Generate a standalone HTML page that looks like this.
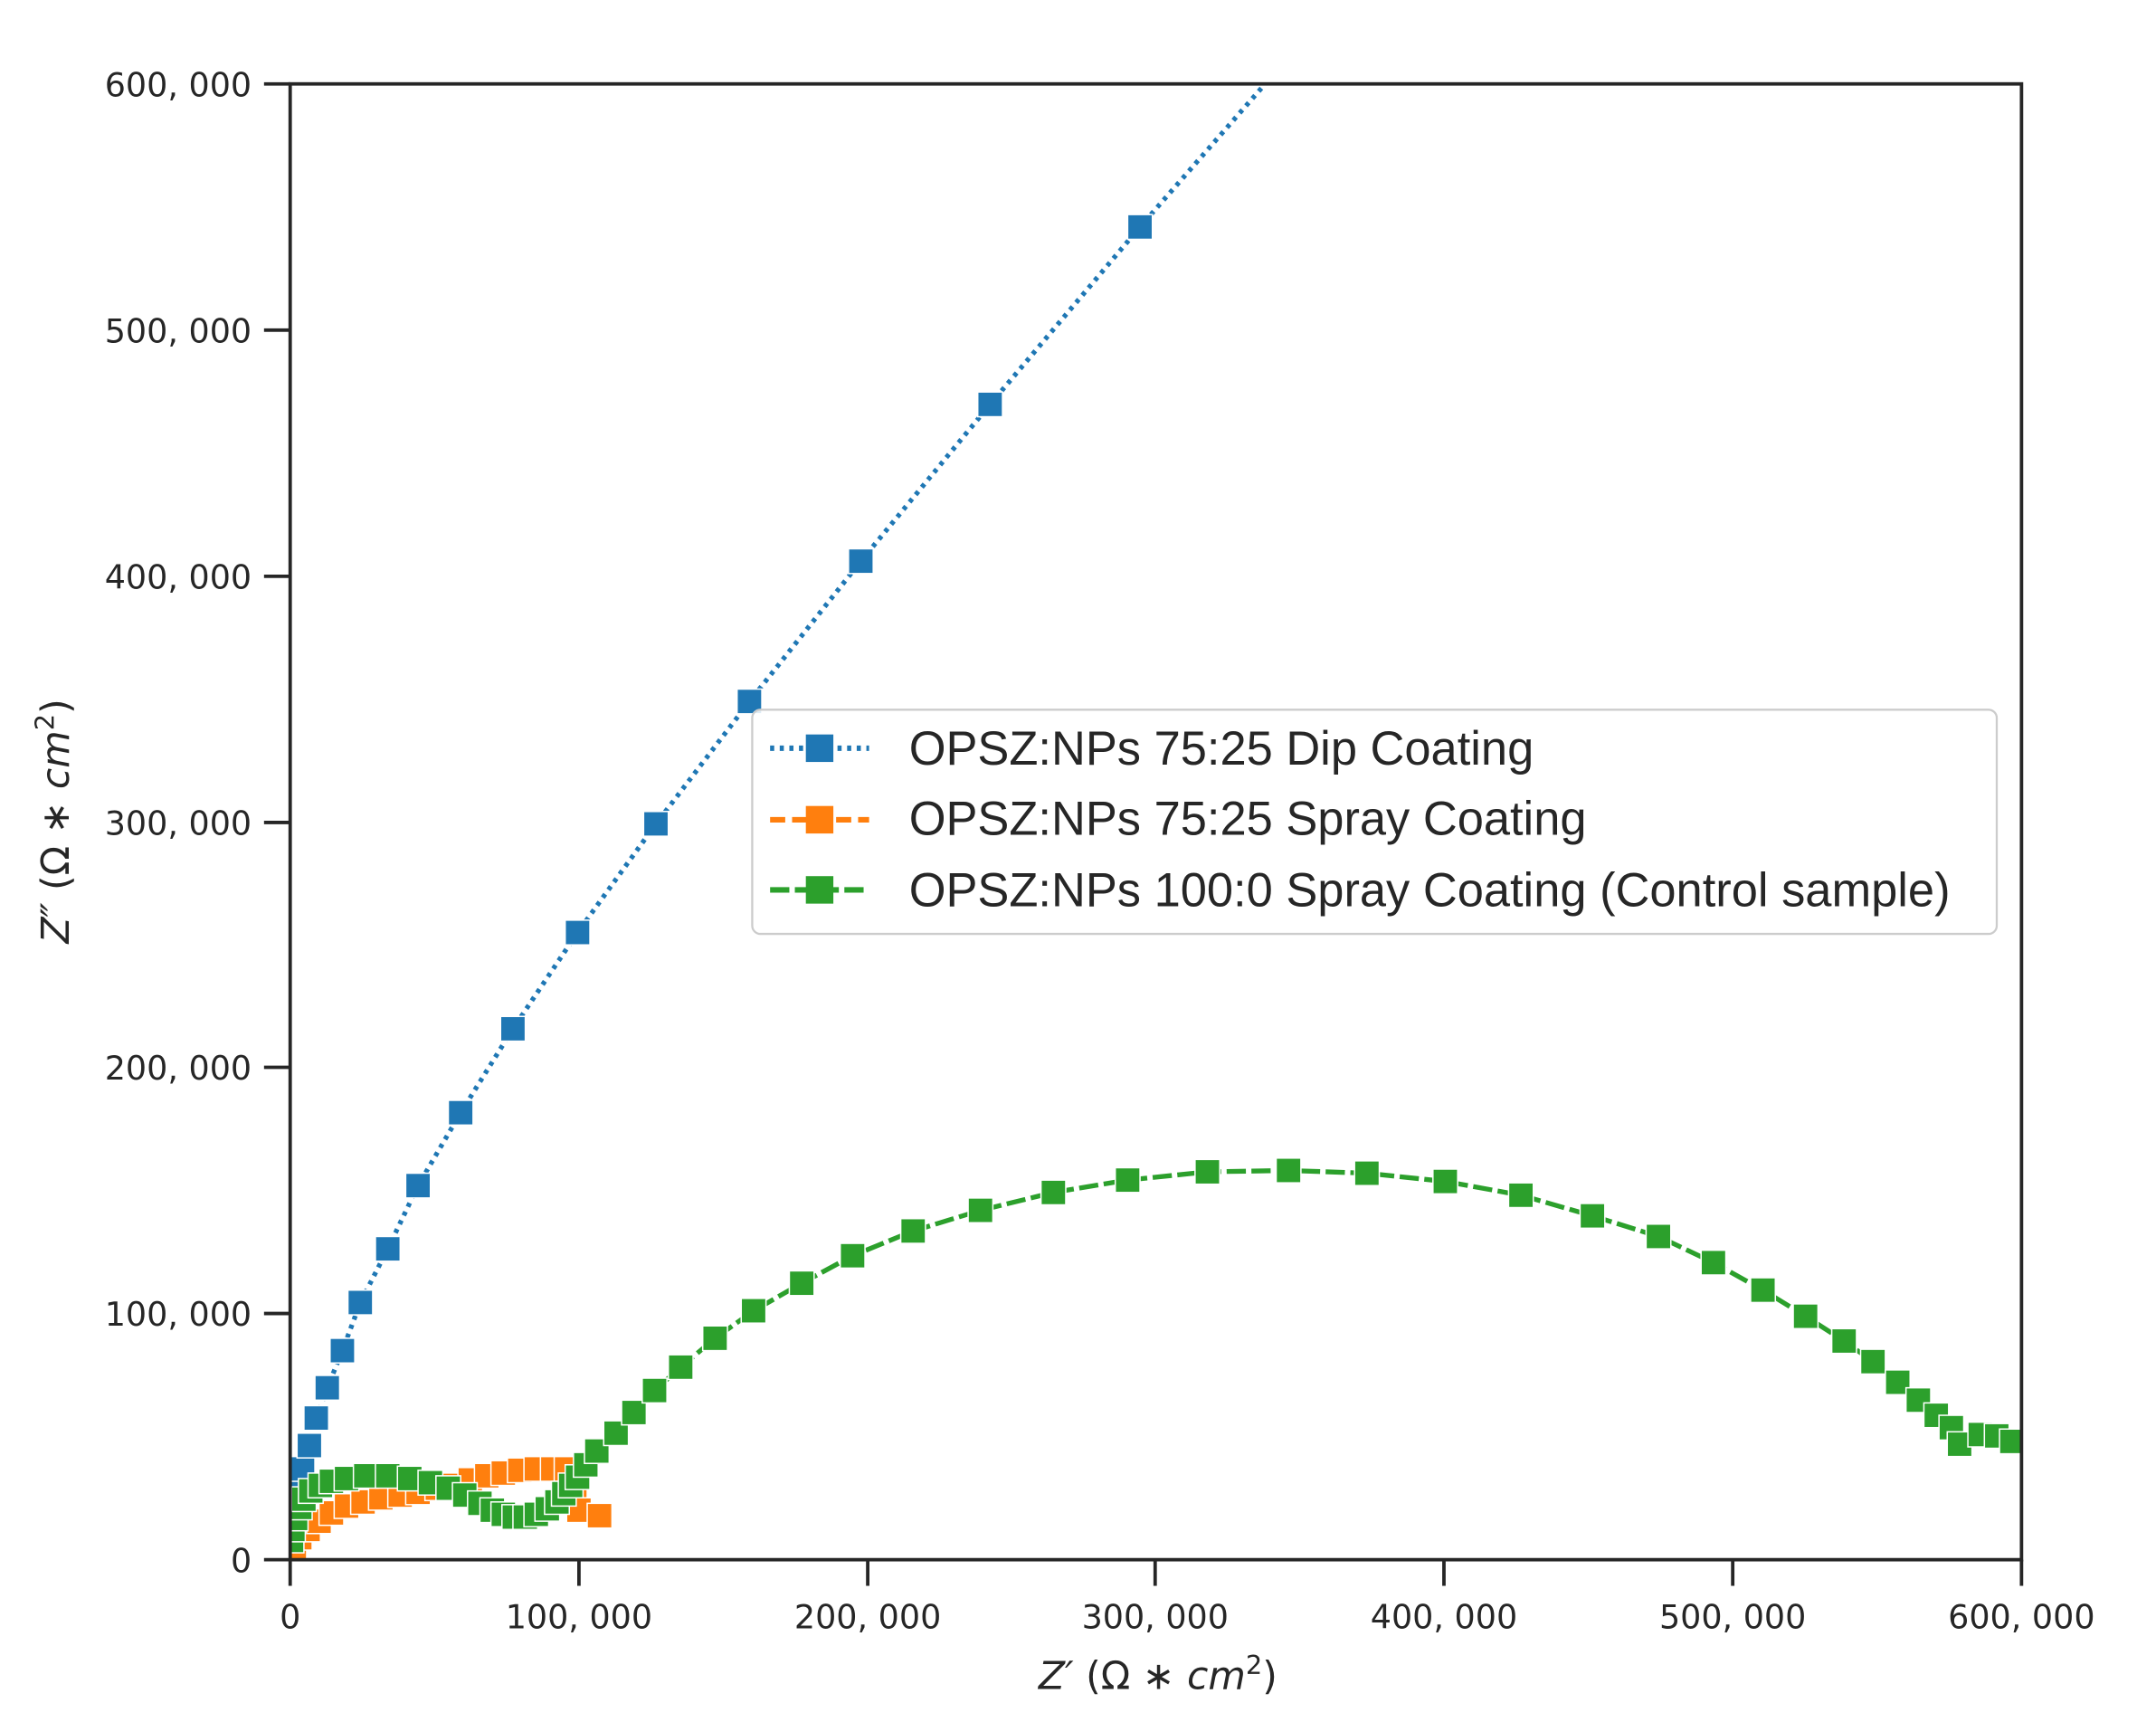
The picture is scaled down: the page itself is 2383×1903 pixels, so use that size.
<!DOCTYPE html>
<html><head><meta charset="utf-8"><style>html,body{margin:0;padding:0;background:#fff}svg{display:block}</style></head>
<body>
<svg xmlns="http://www.w3.org/2000/svg" width="2383" height="1903" viewBox="0 0 1567.8 1252">
<rect width="1567.8" height="1252" fill="#fff"/>
<defs>
<g id="mb"><rect x="-9" y="-9" width="18" height="18" fill="#1f77b4" stroke="#fff" stroke-width="1"/></g>
<g id="mo"><rect x="-9" y="-9" width="18" height="18" fill="#ff7f0e" stroke="#fff" stroke-width="1"/></g>
<g id="mg"><rect x="-9" y="-9" width="18" height="18" fill="#2ca02c" stroke="#fff" stroke-width="1"/></g>
<clipPath id="c"><rect x="211" y="61" width="1259" height="1073"/></clipPath>
</defs>
<g clip-path="url(#c)">
<polyline fill="none" stroke="#1f77b4" stroke-width="3.5" stroke-dasharray="3,4" points="213,1092 216,1080 220,1068 225,1051 230,1031 238,1009 249,982 262,947 282,908 304,862 335,809 373,748 420,678 477,599 545,510 626,408 720,294 829,165 920,61"/>
<g>
<use href="#mb" x="213" y="1092"/><use href="#mb" x="216" y="1080"/><use href="#mb" x="220" y="1068"/><use href="#mb" x="225" y="1051"/><use href="#mb" x="230" y="1031"/><use href="#mb" x="238" y="1009"/><use href="#mb" x="249" y="982"/><use href="#mb" x="262" y="947"/><use href="#mb" x="282" y="908"/><use href="#mb" x="304" y="862"/><use href="#mb" x="335" y="809"/><use href="#mb" x="373" y="748"/><use href="#mb" x="420" y="678"/><use href="#mb" x="477" y="599"/><use href="#mb" x="545" y="510"/><use href="#mb" x="626" y="408"/><use href="#mb" x="720" y="294"/><use href="#mb" x="829" y="165"/>
</g>
<polyline fill="none" stroke="#ff7f0e" stroke-width="3.5" stroke-dasharray="11,5" points="214,1125 218,1118 224,1112 232,1106 241,1100 252,1095 264,1092 277,1089 291,1087 304,1085 318,1082 330,1080 342,1076 354,1073 366,1071 378,1069 390,1068 402,1068 412,1068 418,1082 421,1098 436,1102"/>
<g>
<use href="#mo" x="214" y="1125"/><use href="#mo" x="218" y="1118"/><use href="#mo" x="224" y="1112"/><use href="#mo" x="232" y="1106"/><use href="#mo" x="241" y="1100"/><use href="#mo" x="252" y="1095"/><use href="#mo" x="264" y="1092"/><use href="#mo" x="277" y="1089"/><use href="#mo" x="291" y="1087"/><use href="#mo" x="304" y="1085"/><use href="#mo" x="318" y="1082"/><use href="#mo" x="330" y="1080"/><use href="#mo" x="342" y="1076"/><use href="#mo" x="354" y="1073"/><use href="#mo" x="366" y="1071"/><use href="#mo" x="378" y="1069"/><use href="#mo" x="390" y="1068"/><use href="#mo" x="402" y="1068"/><use href="#mo" x="412" y="1068"/><use href="#mo" x="418" y="1082"/><use href="#mo" x="421" y="1098"/><use href="#mo" x="436" y="1102"/>
</g>
<polyline fill="none" stroke="#2ca02c" stroke-width="3.5" stroke-dasharray="14,4" points="212,1120 213,1112 215,1104 218,1096 221,1090 226,1084 233,1080 241,1077 252,1075 266,1073 282,1073 298,1075 313,1078 326,1082 338,1087 349,1093 358,1098 366,1101 374,1103 382,1103 390,1101 398,1097 405,1092 410,1086 415,1080 420,1074 426,1065 434,1055 448,1042 461,1027 476,1011 495,994 520,973 548,953 583,933 620,913 664,895 713,880 766,867 820,858 878,852 937,851 994,853 1051,859 1106,869 1158,884 1206,899 1246,918 1282,938 1313,957 1341,975 1362,990 1380,1005 1395,1018 1408,1029 1419,1038 1425,1050 1440,1043 1452,1044 1463,1048"/>
<g>
<use href="#mg" x="212" y="1120"/><use href="#mg" x="213" y="1112"/><use href="#mg" x="215" y="1104"/><use href="#mg" x="218" y="1096"/><use href="#mg" x="221" y="1090"/><use href="#mg" x="226" y="1084"/><use href="#mg" x="233" y="1080"/><use href="#mg" x="241" y="1077"/><use href="#mg" x="252" y="1075"/><use href="#mg" x="266" y="1073"/><use href="#mg" x="282" y="1073"/><use href="#mg" x="298" y="1075"/><use href="#mg" x="313" y="1078"/><use href="#mg" x="326" y="1082"/><use href="#mg" x="338" y="1087"/><use href="#mg" x="349" y="1093"/><use href="#mg" x="358" y="1098"/><use href="#mg" x="366" y="1101"/><use href="#mg" x="374" y="1103"/><use href="#mg" x="382" y="1103"/><use href="#mg" x="390" y="1101"/><use href="#mg" x="398" y="1097"/><use href="#mg" x="405" y="1092"/><use href="#mg" x="410" y="1086"/><use href="#mg" x="415" y="1080"/><use href="#mg" x="420" y="1074"/><use href="#mg" x="426" y="1065"/><use href="#mg" x="434" y="1055"/><use href="#mg" x="448" y="1042"/><use href="#mg" x="461" y="1027"/><use href="#mg" x="476" y="1011"/><use href="#mg" x="495" y="994"/><use href="#mg" x="520" y="973"/><use href="#mg" x="548" y="953"/><use href="#mg" x="583" y="933"/><use href="#mg" x="620" y="913"/><use href="#mg" x="664" y="895"/><use href="#mg" x="713" y="880"/><use href="#mg" x="766" y="867"/><use href="#mg" x="820" y="858"/><use href="#mg" x="878" y="852"/><use href="#mg" x="937" y="851"/><use href="#mg" x="994" y="853"/><use href="#mg" x="1051" y="859"/><use href="#mg" x="1106" y="869"/><use href="#mg" x="1158" y="884"/><use href="#mg" x="1206" y="899"/><use href="#mg" x="1246" y="918"/><use href="#mg" x="1282" y="938"/><use href="#mg" x="1313" y="957"/><use href="#mg" x="1341" y="975"/><use href="#mg" x="1362" y="990"/><use href="#mg" x="1380" y="1005"/><use href="#mg" x="1395" y="1018"/><use href="#mg" x="1408" y="1029"/><use href="#mg" x="1419" y="1038"/><use href="#mg" x="1425" y="1050"/><use href="#mg" x="1440" y="1043"/><use href="#mg" x="1452" y="1044"/><use href="#mg" x="1463" y="1048"/>
</g>
</g>
<rect x="211" y="61" width="1259" height="1073" fill="none" stroke="#262626" stroke-width="2.5"/>
<g stroke="#262626" stroke-width="2.5">
<line x1="211" y1="1134" x2="211" y2="1153"/><line x1="421" y1="1134" x2="421" y2="1153"/><line x1="631" y1="1134" x2="631" y2="1153"/><line x1="840" y1="1134" x2="840" y2="1153"/><line x1="1050" y1="1134" x2="1050" y2="1153"/><line x1="1260" y1="1134" x2="1260" y2="1153"/><line x1="1470" y1="1134" x2="1470" y2="1153"/>
<line x1="192" y1="1134" x2="211" y2="1134"/><line x1="192" y1="955" x2="211" y2="955"/><line x1="192" y1="776" x2="211" y2="776"/><line x1="192" y1="598" x2="211" y2="598"/><line x1="192" y1="419" x2="211" y2="419"/><line x1="192" y1="240" x2="211" y2="240"/><line x1="192" y1="61" x2="211" y2="61"/>
</g>
<g font-family="DejaVu Sans, sans-serif" font-size="24" fill="#262626">
<g text-anchor="middle">
<text x="211" y="1184">0</text><text x="421" y="1184">100, 000</text><text x="631" y="1184">200, 000</text><text x="840" y="1184">300, 000</text><text x="1050" y="1184">400, 000</text><text x="1260" y="1184">500, 000</text><text x="1470" y="1184">600, 000</text>
</g>
<g text-anchor="end">
<text x="183" y="1143">0</text><text x="183" y="964">100, 000</text><text x="183" y="785">200, 000</text><text x="183" y="607">300, 000</text><text x="183" y="428">400, 000</text><text x="183" y="249">500, 000</text><text x="183" y="70">600, 000</text>
</g>
<text x="842" y="1228" text-anchor="middle" font-size="28"><tspan font-style="italic">Z′</tspan> (Ω ∗ <tspan font-style="italic">cm</tspan><tspan font-size="19" dy="-11">2</tspan><tspan dy="11">)</tspan></text>
<text transform="translate(50,597) rotate(-90)" text-anchor="middle" font-size="28"><tspan font-style="italic">Z″</tspan> (Ω ∗ <tspan font-style="italic">cm</tspan><tspan font-size="19" dy="-11">2</tspan><tspan dy="11">)</tspan></text>
</g>
<rect x="547" y="516" width="905" height="163" rx="6" fill="#fff" fill-opacity="0.85" stroke="#cccccc" stroke-width="1.5"/>
<line x1="560" y1="544" x2="632" y2="544" stroke="#1f77b4" stroke-width="4" stroke-dasharray="3,4"/>
<rect x="586" y="534" width="20" height="20" fill="#1f77b4"/>
<line x1="560" y1="596" x2="632" y2="596" stroke="#ff7f0e" stroke-width="4" stroke-dasharray="11,5"/>
<rect x="586" y="586" width="20" height="20" fill="#ff7f0e"/>
<line x1="560" y1="647" x2="632" y2="647" stroke="#2ca02c" stroke-width="4" stroke-dasharray="14,4"/>
<rect x="586" y="637" width="20" height="20" fill="#2ca02c"/>
<g font-family="Liberation Sans, Arial, sans-serif" font-size="34.5" fill="#262626">
<text x="661" y="556">OPSZ:NPs 75:25 Dip Coating</text>
<text x="661" y="607">OPSZ:NPs 75:25 Spray Coating</text>
<text x="661" y="659">OPSZ:NPs 100:0 Spray Coating (Control sample)</text>
</g>
</svg>
</body></html>
